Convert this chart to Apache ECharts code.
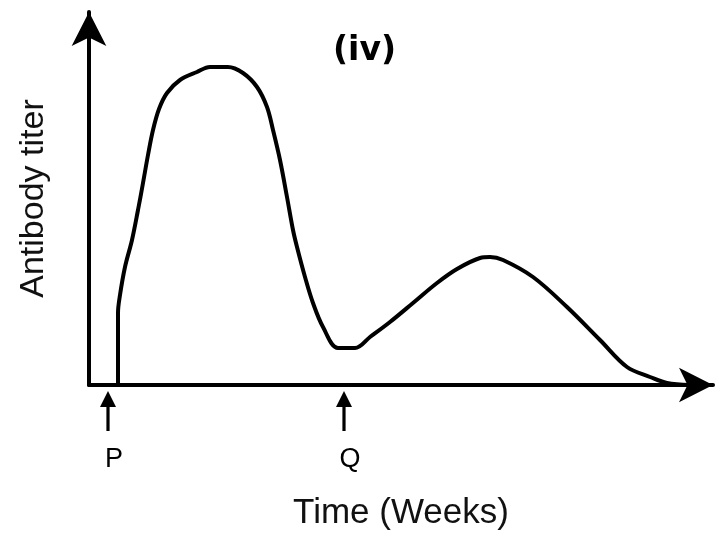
<!DOCTYPE html>
<html>
<head>
<meta charset="utf-8">
<title>Antibody titer</title>
<script src="https://cdn.jsdelivr.net/npm/echarts@6/dist/echarts.min.js"></script>
<style>
  html, body { margin: 0; padding: 0; background: #fff; }
  #main { width: 723px; height: 533px; }
</style>
</head>
<body>
<div id="main"></div>
<script>
// curve (x: time, y: titer, arbitrary units)
var timeX = [29, 29, 31, 36, 43, 49, 54, 59, 64, 70, 78, 91, 108, 121, 139, 154, 168, 178, 184, 191,
             198, 204, 208, 216, 224, 234, 249, 266, 281, 301, 324, 348, 368, 391, 401, 414, 444, 478,
             511, 538, 561, 578, 601];
var titerY = [0, 72, 90, 118, 145, 175, 202, 230, 255, 276, 292, 305, 313, 318, 318, 312, 298, 278, 255, 225,
              188, 155, 138, 108, 82, 58, 37, 37, 48, 63, 82, 102, 116, 127, 128, 125, 108, 78,
              45, 18, 8, 2, 0];
// injection markers under the time axis
var markNames = ['P', 'Q'];
var markX = [19, 255];
var markY = [-26, -26];

var curve = [];
for (var i = 0; i < timeX.length; i++) {
  curve.push([timeX[i], titerY[i]]);
}
var marks = [];
for (var j = 0; j < markNames.length; j++) {
  marks.push({ name: markNames[j], value: [markX[j], markY[j]] });
}

var chart = echarts.init(document.getElementById('main'));
var option = {
  backgroundColor: '#fff',
  animation: false,
  title: {
    text: '(iv)',
    left: 328,
    top: 30,
    textStyle: { fontFamily: 'DejaVu Sans', fontWeight: 'bold', fontSize: 33, color: '#000' }
  },
  grid: { left: 89, right: 10, top: 12, bottom: 148, outerBoundsMode: 'none', containLabel: false },
  xAxis: {
    type: 'value',
    min: 0,
    max: 624,
    name: 'Time (Weeks)',
    nameLocation: 'middle',
    nameGap: 111,
    nameTextStyle: { fontFamily: 'Liberation Sans', fontSize: 35, color: '#111' },
    axisLine: { show: true, symbol: ['none', 'arrow'], symbolSize: [26, 34], lineStyle: { color: '#000', width: 4 } },
    axisTick: { show: false },
    axisLabel: { show: false },
    splitLine: { show: false }
  },
  yAxis: {
    type: 'value',
    min: 0,
    max: 373,
    name: 'Antibody titer',
    nameLocation: 'middle',
    nameGap: 38,
    nameTextStyle: { fontFamily: 'Liberation Sans', fontSize: 34, color: '#111' },
    axisLine: { show: true, symbol: ['none', 'arrow'], symbolSize: [26, 34], lineStyle: { color: '#000', width: 4 } },
    axisTick: { show: false },
    axisLabel: { show: false },
    splitLine: { show: false }
  },
  series: [
    {
      type: 'line',
      data: curve,
      smooth: 0.35,
      showSymbol: false,
      lineStyle: { color: '#000', width: 4 }
    },
    {
      type: 'scatter',
      data: marks,
      clip: false,
      symbol: 'path://M8,0 L16,16 L9.6,16 L9.6,40 L6.4,40 L6.4,16 L0,16 Z',
      symbolSize: [16, 40],
      itemStyle: { color: '#000', opacity: 1 },
      label: {
        show: true,
        position: 'bottom',
        distance: 15,
        offset: [6, 0],
        formatter: '{b}',
        fontFamily: 'Liberation Sans',
        fontSize: 27,
        color: '#000'
      }
    }
  ]
};
chart.setOption(option);
</script>
</body>
</html>
